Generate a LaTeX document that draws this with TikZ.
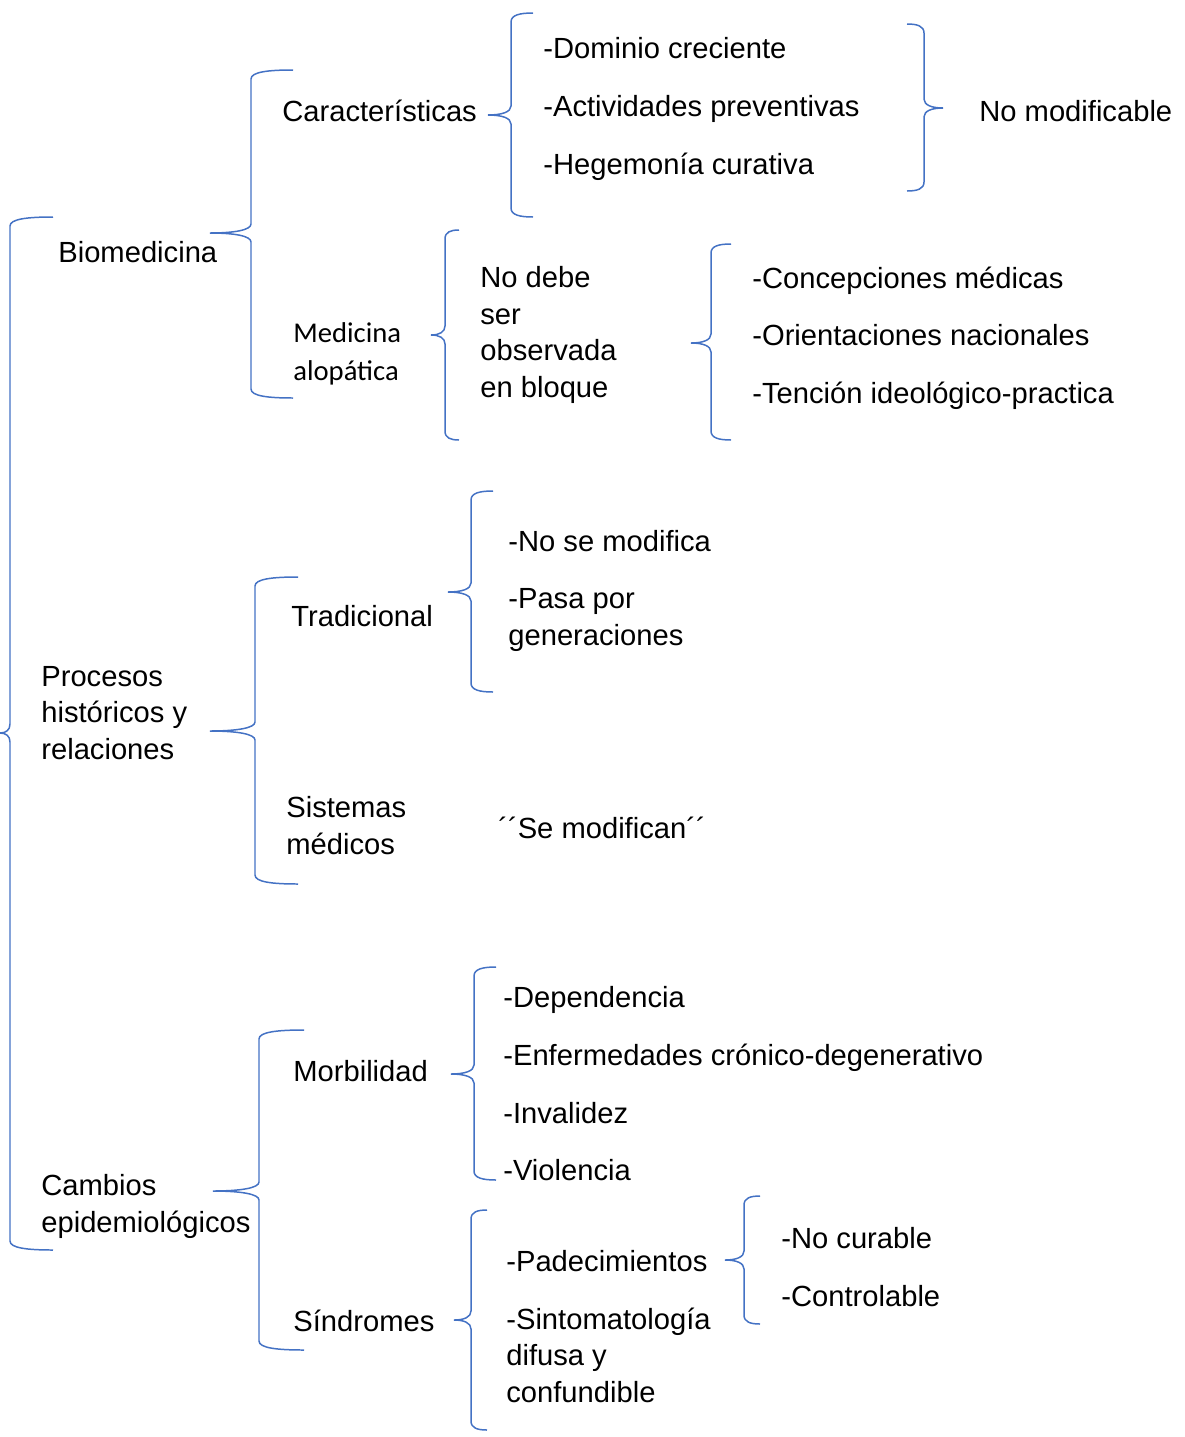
\documentclass[tikz,border=0pt]{standalone}
\usepackage{fontspec}
\setmainfont{Liberation Sans}
\newfontfamily\calib{Carlito}
\definecolor{brblue}{HTML}{4472C4}
\tikzset{
  bracestyle/.style={draw=brblue, line width=0.85pt},
  txt/.style={inner sep=0pt, anchor=base west, align=left, font=\fontsize{16.6}{20.7}\selectfont},
  ctxt/.style={inner sep=0pt, anchor=base west, align=left, font=\calib\fontsize{16.3}{21.5}\selectfont}
}
% #1 xtip, #2 ymid, #3 xvertical, #4 xend, #5 ytop, #6 ybot
\newcommand\wbrace[6]{\draw[bracestyle] ({#4},{#5}) .. controls ({#3+0.4*(#4-#3)},{#5}) and ({#3},{#5+2}) .. ({#3},{#5+9}) -- ({#3},{#2-9}) .. controls ({#3},{#2-3}) and ({#3+0.4*(#1-#3)},{#2}) .. ({#1},{#2}) .. controls ({#3+0.4*(#1-#3)},{#2}) and ({#3},{#2+3}) .. ({#3},{#2+9}) -- ({#3},{#6-9}) .. controls ({#3},{#6-2}) and ({#3+0.4*(#4-#3)},{#6}) .. ({#4},{#6});}
\begin{document}
\begin{tikzpicture}[x=0.02cm,y=-0.02cm]
\useasboundingbox (0,0) rectangle (1184,1437);
% braces
\wbrace{0}{733}{10}{53}{217}{1250}
\wbrace{210}{233}{251}{293}{70}{398}
\wbrace{488}{115}{511}{533}{13}{217}
\wbrace{943}{108}{924}{907}{24}{191}
\wbrace{431}{335}{445}{459}{230}{440}
\wbrace{691}{343}{711}{731}{244}{440}
\wbrace{210}{731}{255}{298}{577}{884}
\wbrace{448}{592}{471}{493}{491}{692}
\wbrace{213}{1191}{259}{304}{1030}{1350}
\wbrace{451}{1074}{474}{496}{967}{1180}
\wbrace{454}{1320}{471}{487}{1210}{1430}
\wbrace{725}{1260}{744}{760}{1196}{1324}
% texts (multi-line nodes are placed by the baseline of their last line)
\node[txt] (bio) at (58,262) {Biomedicina};
\node[txt] (car) at (282,121) {Características};
\node[txt] (d1) at (543,58) {-Dominio creciente};
\node[txt] (d2) at (543,116) {-Actividades preventivas};
\node[txt] (d3) at (543,174) {-Hegemonía curativa};
\node[txt] (nomod) at (979,121) {No modificable};
\node[ctxt] (alo) at (293,380) {Medicina\\alopática};
\node[txt] (nodebe) at (480,397) {No debe\\ser\\observada\\en bloque};
\node[txt] (c1) at (752,288) {-Concepciones médicas};
\node[txt] (c2) at (752,345) {-Orientaciones nacionales};
\node[txt] (c3) at (752,403) {-Tención ideológico-practica};
\node[txt] (proc) at (41,759) {Procesos\\históricos y\\relaciones};
\node[txt] (trad) at (291,626) {Tradicional};
\node[txt] (t1) at (508,551) {-No se modifica};
\node[txt] (t2) at (508,645) {-Pasa por\\generaciones};
\node[txt] (sist) at (286,854) {Sistemas\\médicos};
\node[txt] (semod) at (498,838) {´´Se modifican´´};
\node[txt] (camb) at (41,1232) {Cambios\\epidemiológicos};
\node[txt] (morb) at (293,1081) {Morbilidad};
\node[txt] (m1) at (503,1007) {-Dependencia};
\node[txt] (m2) at (503,1065) {-Enfermedades crónico-degenerativo};
\node[txt] (m3) at (503,1123) {-Invalidez};
\node[txt] (m4) at (503,1180) {-Violencia};
\node[txt] (sind) at (293,1331) {Síndromes};
\node[txt] (s1) at (506,1271) {-Padecimientos};
\node[txt] (s2) at (506,1402) {-Sintomatología\\difusa y\\confundible};
\node[txt] (p1) at (781,1248) {-No curable};
\node[txt] (p2) at (781,1306) {-Controlable};
\end{tikzpicture}
\end{document}
